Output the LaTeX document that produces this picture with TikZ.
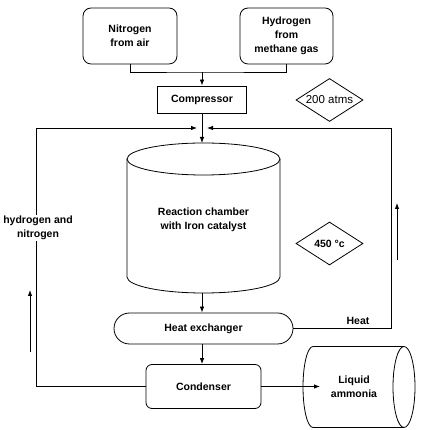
\documentclass[tikz,border=0pt]{standalone}
\usepackage{fontspec}
\setmainfont{Liberation Sans}
\usetikzlibrary{shapes.geometric,arrows.meta}
\begin{document}
\begin{tikzpicture}[x=1pt,y=1pt,
  line width=0.8pt,
  lbl/.style={font=\bfseries\fontsize{10.5}{14}\selectfont, align=center},
  rbox/.style={draw, rounded corners=8pt, lbl},
  arr/.style={-{Latex[length=6pt,width=4.5pt]}},
  dia/.style={draw, diamond, inner sep=0pt, aspect=1.56, minimum width=67pt, minimum height=43pt}]
\useasboundingbox (0,0) rectangle (420,430);
% sources
\node[rbox, minimum width=94pt, minimum height=56pt] (nit) at (130,394) {Nitrogen\\from air};
\node[rbox, minimum width=93pt, minimum height=56pt] (hyd) at (286.5,394) {Hydrogen\\from\\methane gas};
\node[draw, lbl, minimum width=89pt, minimum height=27pt] (comp) at (202,330.5) {Compressor};
\coordinate (j) at (202,358);
\draw (nit.south) |- (j) -| (hyd.south);
\draw[arr] (j) -- (comp.north);
\node[dia, font=\fontsize{11.5}{12}\selectfont] (atm) at (329.5,330) {200 atms};
% reaction chamber
\coordinate (ct) at (202,287);
\coordinate (cb) at (202,137);
\draw (127,271) -- (127,153) arc[start angle=180, end angle=360, x radius=76.5pt, y radius=16pt] -- (280,271);
\draw (203.5,271) ellipse [x radius=76.5pt, y radius=16pt];
\node[lbl] (chamber) at (203.5,210) {Reaction chamber\\with Iron catalyst};
\node[dia, lbl] (t450) at (329.5,186.5) {450 °c};
% heat exchanger and condenser
\node[draw, lbl, rounded corners=15.5pt, minimum width=179pt, minimum height=31pt] (hx) at (203.5,101.5) {Heat exchanger};
\node[draw, lbl, rounded corners=6pt, minimum width=115pt, minimum height=44pt] (cond) at (203.5,43.5) {Condenser};
\draw[arr] (cb) -- (cb |- hx.north);
\draw[arr] (hx.south -| cb) -- (cond.north -| cb);
% loop
\coordinate (tl) at (36,302);
\coordinate (tr) at (391,302);
\coordinate (ml) at (197,302);
\coordinate (mr) at (207,302);
\draw[arr] (cond.west) -| (tl) -- (ml);
\draw[arr] (hx.east) -| (tr) -- (mr);
\draw[arr] (comp.south -| ct) -- (ct);
\node[lbl, fill=white, inner sep=1pt] (hn) at (38,202) {hydrogen and\\nitrogen};
\node[lbl] (heat) at (358,109) {Heat};
\coordinate (la1) at (30,78);
\coordinate (la2) at (30,140);
\draw[arr] (la1) -- (la2);
\coordinate (ra1) at (397,170);
\coordinate (ra2) at (397,227);
\draw[arr] (ra1) -- (ra2);
% liquid ammonia
\draw (313,83.5) -- (404,83.5);
\draw (313,2.5) -- (404,2.5);
\draw (404,43) ellipse [x radius=11pt, y radius=40.5pt];
\draw (313,83.5) arc[start angle=90, end angle=270, x radius=10pt, y radius=40.5pt];
\node[lbl] (amm) at (354,43) {Liquid\\ammonia};
\coordinate (ain) at (320,43.5);
\draw[arr] (cond.east) -- (ain);
\end{tikzpicture}
\end{document}
